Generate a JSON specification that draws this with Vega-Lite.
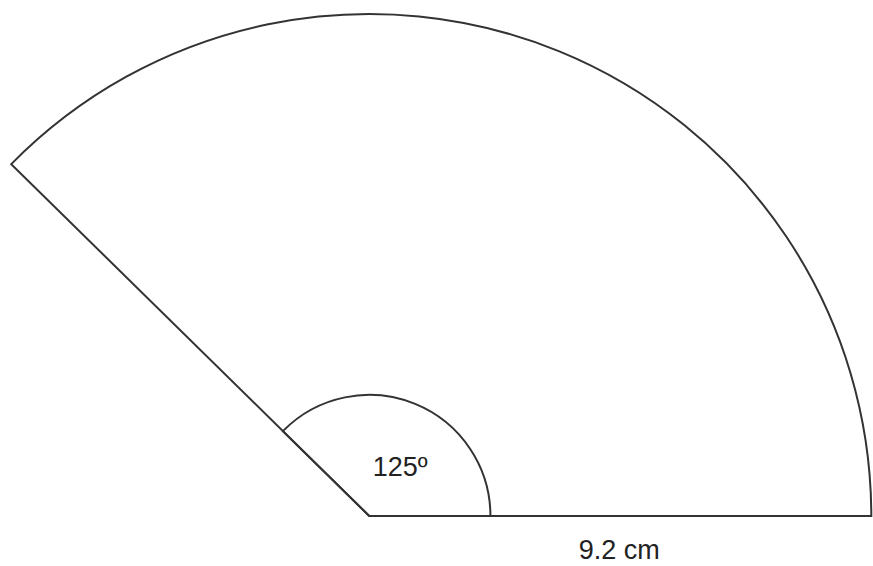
{
  "$schema": "https://vega.github.io/schema/vega-lite/v6.json",
  "width": 873,
  "height": 566,
  "autosize": {"type": "fit", "contains": "padding"},
  "padding": 0,
  "background": "white",
  "config": {"view": {"stroke": null}},
  "datasets": {
    "sectors": [
      {"part": "sector", "cx": 0, "cy": 0, "r": 9.2, "a0": 90, "a1": -45.5},
      {"part": "angle mark", "cx": 0, "cy": 0, "r": 2.22, "a0": 90, "a1": -45.5}
    ],
    "labels": [
      {"label": "125º", "x": 0.57, "y": 0.73},
      {"label": "9.2 cm", "x": 4.6, "y": -0.79}
    ]
  },
  "layer": [
    {
      "data": {"name": "sectors"},
      "mark": {"type": "arc", "fillOpacity": 0, "stroke": "#333333", "strokeWidth": 2},
      "encoding": {
        "x": {"field": "cx", "type": "quantitative", "scale": {"domain": [-6.799, 9.2], "nice": false, "zero": false}, "axis": null},
        "y": {"field": "cy", "type": "quantitative", "scale": {"domain": [-0.916, 9.457], "nice": false, "zero": false}, "axis": null},
        "theta": {"field": "a0", "type": "quantitative", "stack": null, "scale": {"domain": [0, 360], "range": [0, 6.283185307], "zero": true}},
        "theta2": {"field": "a1"},
        "radius": {"field": "r", "type": "quantitative", "scale": {"type": "linear", "domain": [0, 9.2], "range": [0, 502], "zero": true}}
      }
    },
    {
      "data": {"name": "labels"},
      "mark": {"type": "text", "font": "Liberation Sans", "fontSize": 27, "fill": "#222222", "align": "center", "baseline": "alphabetic"},
      "encoding": {
        "x": {"field": "x", "type": "quantitative"},
        "y": {"field": "y", "type": "quantitative"},
        "text": {"field": "label"}
      }
    }
  ]
}
